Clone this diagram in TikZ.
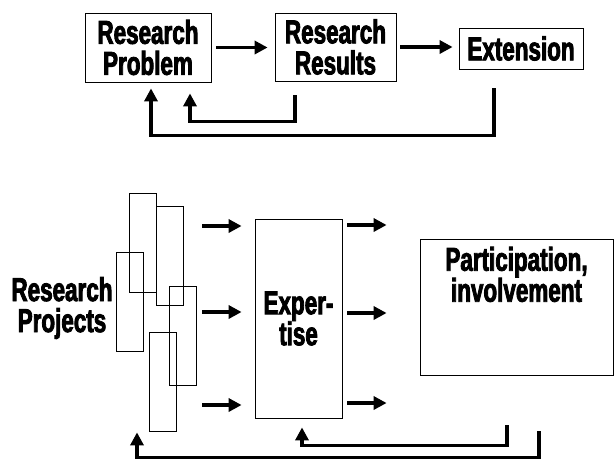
\documentclass[tikz,border=0pt]{standalone}
\usepackage{fontspec}
\newfontfamily\impactish{Liberation Sans}[FakeStretch=0.68,BoldFeatures={FakeBold=2.5}]
\usetikzlibrary{arrows.meta,positioning}
\begin{document}
\begin{tikzpicture}[x=1pt,y=-1pt,
    txt/.style={font=\impactish\bfseries\fontsize{33}{31}\selectfont, align=center, inner sep=0pt},
    box/.style={draw, line width=0.8pt, txt},
    strip/.style={draw, line width=0.8pt, minimum width=27pt, minimum height=99pt, inner sep=0pt},
    flow/.style={line width=3.6pt, -{Triangle[length=13pt,width=13pt]}}]
      \useasboundingbox (0,0) rectangle (615,459);

      \node[box, minimum width=126pt, minimum height=69pt] (prob) at (148,47.5) {Research\\Problem};
      \node[box, minimum width=121pt, minimum height=68pt] (res) at (335.5,47) {Research\\Results};
      \node[box, minimum width=124pt, minimum height=41pt] (ext) at (521,48.5) {Extension};

      \draw[flow, shorten <=5pt, shorten >=7pt] (prob.east) -- (prob.east -| res.west);
      \draw[flow, shorten <=4pt, shorten >=6pt] (res.east) -- (res.east -| ext.west);
      \draw[flow] ([xshift=-40.5pt,yshift=-14pt]res.south) -- ++(0,26) -| ([xshift=42pt,yshift=-11pt]prob.south);
      \draw[flow] ([xshift=-27pt,yshift=-19pt]ext.south) -- ++(0,47) -| ([xshift=3pt,yshift=-6pt]prob.south);

      \node[strip] (s1) at (142.5,242.5) {};
      \node[strip] (s2) at (169.5,256) {};
      \node[strip] (s3) at (129.5,302) {};
      \node[strip] (s4) at (182.5,335.5) {};
      \node[strip] (s5) at (162.5,381.5) {};
      \node[txt] (proj) at (62,308) {Research\\Projects};

      \node[box, minimum width=87pt, minimum height=199pt] (exp) at (298.5,318.5) {Exper-\\tise};
      \node[box, minimum width=193pt, minimum height=136pt,
            label={[txt, anchor=north, yshift=-8pt]north:{Participation,\\involvement}}] (part) at (516.5,307) {};

      \foreach \y [count=\i] in {226,312,405} {
        \coordinate (in\i) at (202,\y);
        \draw[flow, shorten >=13pt] (in\i) -- (in\i -| exp.west);
      }
      \foreach \y [count=\i] in {225,313,403} {
        \coordinate (out\i) at (347,\y);
        \draw[flow, shorten >=33pt] (out\i) -- (out\i -| part.west);
      }

      \draw[flow] ([xshift=-9.5pt,yshift=-50pt]part.south) -- ++(0,20) -| ([xshift=3.5pt,yshift=-9pt]exp.south);
      \draw[flow] ([xshift=22.5pt,yshift=-56pt]part.south) -- ++(0,26) -| ([xshift=-25.5pt,yshift=-1pt]s5.south);
    \end{tikzpicture}
\end{document}
